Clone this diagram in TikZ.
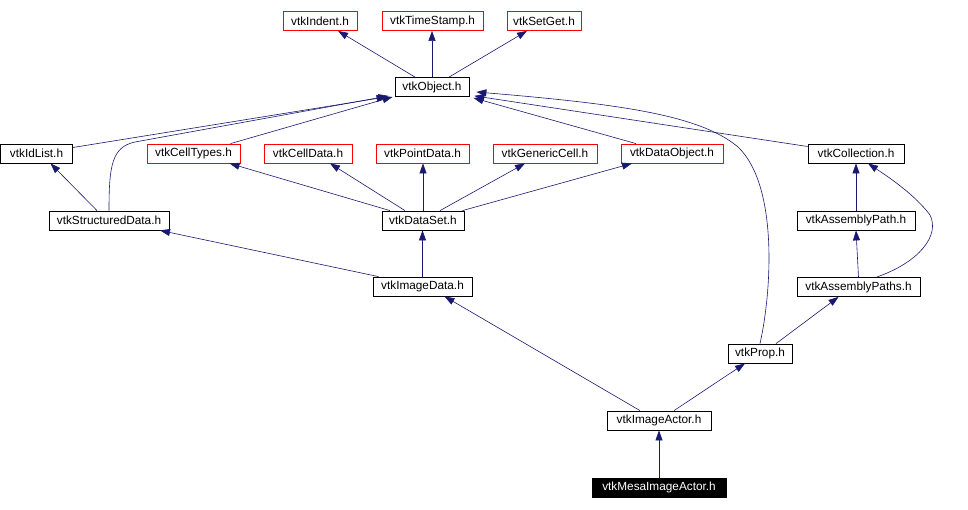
\documentclass[tikz,border=0pt]{standalone}
\usepackage{fontspec}
\setmainfont{Liberation Sans}
\usetikzlibrary{arrows.meta}
\definecolor{edgeblue}{RGB}{25,25,112}

\begin{document}
\begin{tikzpicture}[x=1pt,y=-1pt,
  hdr/.style={draw=black,fill=white,inner sep=0pt,minimum height=19pt,
    font=\fontsize{11.8}{13}\selectfont,line width=0.8pt},
  hdrred/.style={hdr,draw=red},
  hdrfocus/.style={hdr,fill=black,text=white},
  dep/.style={draw=edgeblue,line width=0.6pt,-{Triangle[length=10pt,width=7pt]}}]
\useasboundingbox (0,0) rectangle (968,509);
% headers at depth 0:
\node[hdrred,minimum width=74pt] (indent) at (320,21) {vtkIndent.h};
\node[hdrred,minimum width=101pt] (timestamp) at (432.5,21) {vtkTimeStamp.h};
\node[hdrred,minimum width=74pt] (setget) at (544,21) {vtkSetGet.h};
% headers at depth 1:
\node[hdr,minimum width=74pt] (object) at (432,87) {vtkObject.h};
% headers at depth 2:
\node[hdr,minimum width=72pt] (idlist) at (36.5,153.5) {vtkIdList.h};
\node[hdrred,minimum width=93pt] (celltypes) at (193.5,153.5) {vtkCellTypes.h};
\node[hdrred,minimum width=88pt] (celldata) at (308,153.5) {vtkCellData.h};
\node[hdrred,minimum width=93pt] (pointdata) at (422.5,153.5) {vtkPointData.h};
\node[hdrred,minimum width=104pt] (genericcell) at (545,153.5) {vtkGenericCell.h};
\node[hdrred,minimum width=102pt] (dataobject) at (672,153.5) {vtkDataObject.h};
\node[hdr,minimum width=96pt] (collection) at (856,153.5) {vtkCollection.h};
% headers at depth 3:
\node[hdr,minimum width=120pt] (structured) at (109,220.5) {vtkStructuredData.h};
\node[hdr,minimum width=82pt] (dataset) at (423,220.5) {vtkDataSet.h};
\node[hdr,minimum width=118pt] (assemblypath) at (856,220.5) {vtkAssemblyPath.h};
% headers at depth 4:
\node[hdr,minimum width=99pt] (imagedata) at (422.5,286.5) {vtkImageData.h};
\node[hdr,minimum width=123pt] (assemblypaths) at (858.5,287) {vtkAssemblyPaths.h};
\node[hdr,minimum width=64pt] (prop) at (760,353.5) {vtkProp.h};
% headers at depth 5:
\node[hdr,minimum width=104pt] (imageactor) at (659,420.5) {vtkImageActor.h};
\node[hdrfocus,minimum width=134pt] (mesa) at (659,487.5) {vtkMesaImageActor.h};
% include edges into vtkObject.h:
\draw[dep] ([xshift=-17pt]object.north) -- ([xshift=18pt]indent.south);
\draw[dep] (object.north) -- (object.north |- timestamp.south);
\draw[dep] ([xshift=17pt]object.north) -- ([xshift=-17pt]setget.south);
% edges up to vtkObject.h:
\draw[dep] ([yshift=6pt]idlist.east) -- ([xshift=-8pt]object.south west);
\draw[dep] (structured.north) .. controls (109,165) and (112,147) .. (135,142)
  -- ([xshift=-6pt,yshift=1pt]object.south west);
\draw[dep] ([xshift=37pt]celltypes.north) -- ([xshift=-2pt]object.south west);
\draw[dep] ([xshift=-36pt]dataobject.north) -- ([xshift=4pt,yshift=-1pt]object.south east);
\draw[dep] ([yshift=7pt]collection.west) -- ([xshift=5pt,yshift=1pt]object.south east);
\draw[dep] (prop.north) .. controls (772,290) and (778,185) .. (738,147)
  .. controls (700,115) and (620,104) .. ([xshift=7pt,yshift=-5pt]object.east);
% edges out of vtkDataSet.h:
\draw[dep] ([xshift=-33pt]dataset.north) -- ([xshift=36pt]celltypes.south);
\draw[dep] ([xshift=-18pt]dataset.north) -- ([xshift=22pt]celldata.south);
\draw[dep] (dataset.north) -- (dataset.north |- pointdata.south);
\draw[dep] ([xshift=17pt]dataset.north) -- ([xshift=-20pt]genericcell.south);
\draw[dep] ([xshift=-2pt]dataset.north east) -- ([xshift=-40pt]dataobject.south);
% the rest:
\draw[dep] ([xshift=-12pt]structured.north) -- ([xshift=14pt]idlist.south);
\draw[dep] ([xshift=-44pt]imagedata.north) -- ([xshift=51pt]structured.south);
\draw[dep] (imagedata.north) -- (imagedata.north |- dataset.south);
\draw[dep] ([xshift=-19pt]imageactor.north) -- ([xshift=22pt]imagedata.south);
\draw[dep] ([xshift=15pt]imageactor.north) -- ([xshift=-15pt]prop.south);
\draw[dep] (mesa.north) -- (imageactor.south);
\draw[dep] ([xshift=16pt]prop.north) -- ([xshift=-20pt]assemblypaths.south);
\draw[dep] (assemblypath.north) -- (assemblypath.north |- collection.south);
\draw[dep] (assemblypaths.north) -- (assemblypath.south);
\draw[dep] ([xshift=18pt]assemblypaths.north) .. controls (920,262) and (940,235) .. (930,215)
  .. controls (915,195) and (890,178) .. ([xshift=12pt]collection.south);
\end{tikzpicture}
\end{document}
